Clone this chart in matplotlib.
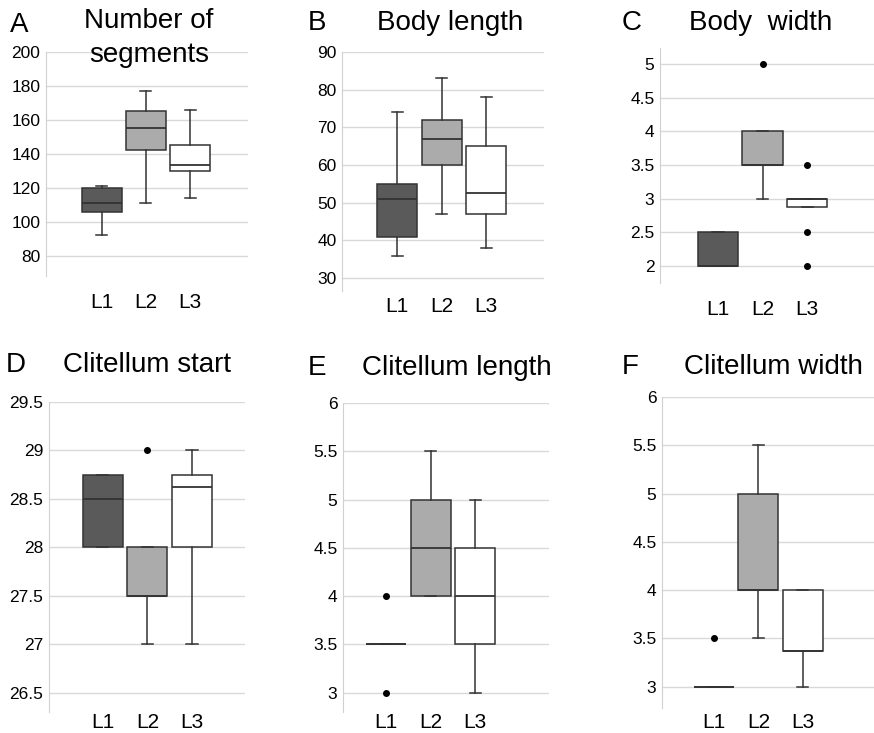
import matplotlib
matplotlib.use("Agg")
import matplotlib.pyplot as plt
from matplotlib.ticker import FuncFormatter

plt.rcParams["font.family"] = ["Liberation Sans", "DejaVu Sans"]

W, H = 874, 733

groups = ["L1", "L2", "L3"]
fills = ["#5a5a5a", "#ababab", "#ffffff"]

# five-number summaries per group: (whisker low, Q1, median, Q3, whisker high)
segments = [(92, 106, 111, 120, 121), (111, 142.5, 155, 165, 177), (114, 130, 133.5, 145, 166)]
segments_out = [[], [], []]

body_len = [(36, 41, 51, 55, 74), (47, 60, 67, 72, 83), (38, 47, 52.5, 65, 78)]
body_len_out = [[], [], []]

body_wid = [(2, 2, 2, 2.5, 2.5), (3, 3.5, 3.5, 4, 4), (2.875, 2.875, 3, 3, 3)]
body_wid_out = [[], [5], [3.5, 2.5, 2]]

clit_start = [(28, 28, 28.5, 28.75, 28.75), (27, 27.5, 27.5, 28, 28), (27, 28, 28.625, 28.75, 29)]
clit_start_out = [[], [29], []]

clit_len = [(3.5, 3.5, 3.5, 3.5, 3.5), (4, 4, 4.5, 5, 5.5), (3, 3.5, 4, 4.5, 5)]
clit_len_out = [[4, 3], [], []]

clit_wid = [(3, 3, 3, 3, 3), (3.5, 4, 4, 5, 5.5), (3, 3.375, 3.375, 4, 4)]
clit_wid_out = [[3.5], [], []]

# panel layout in pixels: (left, top, right, bottom), ylim, yticks, xlim, label pad
panels = [
    ("A", "Number of\nsegments", segments, segments_out,
     (46, 52, 248, 276), (68, 200), [80, 100, 120, 140, 160, 180, 200], (-0.26, 4.31), 12.5),
    ("B", "Body length", body_len, body_len_out,
     (342, 52, 544, 291), (26.6, 90), [30, 40, 50, 60, 70, 80, 90], (-0.24, 4.30), 4),
    ("C", "Body  width", body_wid, body_wid_out,
     (660, 48, 874, 283), (1.75, 5.24), [2, 2.5, 3, 3.5, 4, 4.5, 5], (-0.30, 4.5), 12),
    ("D", "Clitellum start", clit_start, clit_start_out,
     (49, 402, 245, 712), (26.3, 29.5), [26.5, 27, 27.5, 28, 28.5, 29, 29.5], (-0.21, 4.19), 1),
    ("E", "Clitellum length", clit_len, clit_len_out,
     (343, 403, 549, 712), (2.8, 6), [3, 3.5, 4, 4.5, 5, 5.5, 6], (0.03, 4.66), 1),
    ("F", "Clitellum width", clit_wid, clit_wid_out,
     (662, 397, 874, 708), (2.78, 6), [3, 3.5, 4, 4.5, 5, 5.5, 6], (-0.17, 4.6), 3.5),
]

# title / letter centres in pixels
title_pos = {"A": (149, 38), "B": (450, 23), "C": (761, 23),
             "D": (147, 365), "E": (457, 368), "F": (773, 367)}
letter_pos = {"A": (19, 25), "B": (317, 23), "C": (632, 23),
              "D": (16, 365), "E": (317, 368), "F": (630, 367)}

fig = plt.figure(figsize=(W / 100, H / 100), dpi=100)

for letter, title, stats, outliers, box, ylim, yticks, xlim, pad in panels:
    l, t, r, b = box
    ax = fig.add_axes([l / W, 1 - b / H, (r - l) / W, (b - t) / H])
    bstats = []
    for name, s, out in zip(groups, stats, outliers):
        lo, q1, med, q3, hi = s
        bstats.append(dict(label=name, whislo=lo, q1=q1, med=med, q3=q3, whishi=hi, fliers=out))
    art = ax.bxp(bstats, positions=[1, 2, 3], widths=0.9, patch_artist=True,
                 capwidths=0.25,
                 boxprops=dict(edgecolor="#333333", linewidth=1.1),
                 medianprops=dict(color="#333333", linewidth=1.3),
                 whiskerprops=dict(color="#333333", linewidth=1.1),
                 capprops=dict(color="#333333", linewidth=1.1),
                 flierprops=dict(marker="o", markersize=4, markerfacecolor="black",
                                 markeredgecolor="black"))
    for patch, c in zip(art["boxes"], fills):
        patch.set_facecolor(c)
    ax.set_ylim(*ylim)
    ax.set_xlim(*xlim)
    ax.set_yticks(yticks)
    ax.yaxis.set_major_formatter(FuncFormatter(lambda v, p: f"{v:g}"))
    ax.set_xticks([1, 2, 3])
    ax.set_xticklabels(groups)
    ax.tick_params(axis="y", length=0, pad=4, labelsize=12.5)
    ax.tick_params(axis="x", length=0, pad=pad, labelsize=15)
    ax.grid(axis="y", color="#d9d9d9", linewidth=1)
    ax.set_axisbelow(True)
    for side in ["top", "right", "bottom"]:
        ax.spines[side].set_visible(False)
    ax.spines["left"].set_color("#d0d0d0")

    tx, ty = title_pos[letter]
    fig.text(tx / W, 1 - ty / H, title, ha="center", va="center", fontsize=20,
             linespacing=1.35)
    lx, ly = letter_pos[letter]
    fig.text(lx / W, 1 - ly / H, letter, ha="center", va="center", fontsize=20)

fig.savefig("out.png", dpi=100)
